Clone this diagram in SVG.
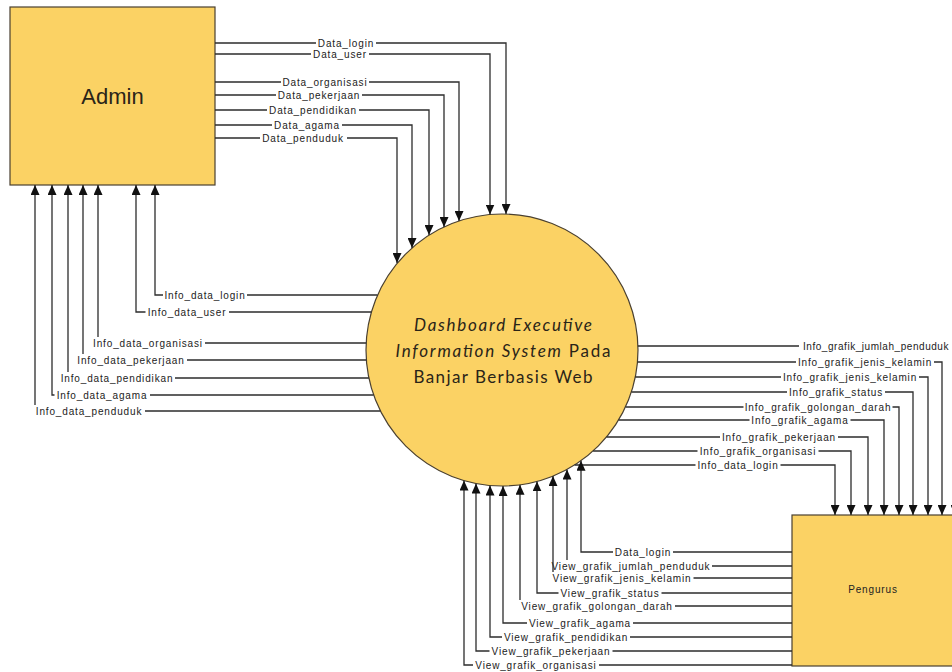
<svg xmlns="http://www.w3.org/2000/svg" width="952" height="672" viewBox="0 0 952 672">
<style>
.c{fill:none;stroke:#2d2d2d;stroke-width:1.3;marker-end:url(#ah)}
.l{font-family:"Liberation Sans",Arial,sans-serif;font-size:10px;letter-spacing:0.85px;fill:#222;text-anchor:middle}
.box{fill:#FBD264;stroke:#4a4030;stroke-width:1.2}
.pt{font-family:Lato,"Open Sans",sans-serif;font-size:17px;fill:#2a2418;text-anchor:middle}
</style>
<defs>
<marker id="ah" markerUnits="userSpaceOnUse" markerWidth="10" markerHeight="9" refX="10" refY="4.5" orient="auto" viewBox="0 0 10 9"><path d="M0,0 L10,4.5 L0,9 z" fill="#111"/></marker>
</defs>
<rect width="952" height="672" fill="#fff"/>
<g id="admin">
<rect class="box" x="10" y="7" width="205" height="178"/>
<text x="112.5" y="104" font-family="Liberation Sans,Arial,sans-serif" font-size="22" fill="#2a2418" text-anchor="middle">Admin</text>
</g>
<g id="process">
<circle class="box" cx="502" cy="350" r="136"/>
<text class="pt" x="503" y="331" font-style="italic" textLength="178" lengthAdjust="spacing">Dashboard Executive</text>
<text class="pt" x="503" y="357" textLength="215" lengthAdjust="spacing"><tspan font-style="italic">Information System</tspan> Pada</text>
<text class="pt" x="503" y="383" textLength="179" lengthAdjust="spacing">Banjar Berbasis Web</text>
</g>
<g id="pengurus">
<rect class="box" x="792" y="515" width="175" height="151"/>
<text class="l" x="873" y="593">Pengurus</text>
</g>
<g id="connectors">
<!-- Admin to process -->
<path class="c" d="M215,43 H316 M376,43 H506 V214"/>
<text class="l" x="346" y="46.5">Data_login</text>
<path class="c" d="M215,54 H311 M369,54 H490 V214.5"/>
<text class="l" x="340" y="57.5">Data_user</text>
<path class="c" d="M215,82 H281 M369,82 H459 V221"/>
<text class="l" x="325" y="85.5">Data_organisasi</text>
<path class="c" d="M215,95 H276 M362,95 H444 V227"/>
<text class="l" x="319" y="98.5">Data_pekerjaan</text>
<path class="c" d="M215,110 H267 M359,110 H429 V235"/>
<text class="l" x="313" y="113.5">Data_pendidikan</text>
<path class="c" d="M215,125 H272 M342,125 H412 V248"/>
<text class="l" x="307" y="128.5">Data_agama</text>
<path class="c" d="M215,138 H260 M347,138 H397 V263"/>
<text class="l" x="303" y="141.5">Data_penduduk</text>
<!-- process to Admin -->
<path class="c" d="M377.6,295 H247 M163,295 H155 V185"/>
<text class="l" x="205" y="298.5">Info_data_login</text>
<path class="c" d="M371.4,312 H229 M145.5,312 H136 V185"/>
<text class="l" x="187" y="315.5">Info_data_user</text>
<path class="c" d="M366.2,343 H205 M98,337 V185"/>
<text class="l" x="148" y="346.5">Info_data_organisasi</text>
<path class="c" d="M366.4,360 H187 M83,354 V185"/>
<text class="l" x="131" y="363.5">Info_data_pekerjaan</text>
<path class="c" d="M368.9,378 H175 M68,372 V185"/>
<text class="l" x="117" y="381.5">Info_data_pendidikan</text>
<path class="c" d="M373.7,395 H150 M54.5,395 H52 V185"/>
<text class="l" x="102" y="398.5">Info_data_agama</text>
<path class="c" d="M380.5,411 H145 M35,405 V185"/>
<text class="l" x="89" y="414.5">Info_data_penduduk</text>
<!-- process to Pengurus -->
<path class="c" d="M637.9,346 H799 M955,352 V515"/>
<text class="l" x="876" y="349.5" style="letter-spacing:0.55px">Info_grafik_jumlah_penduduk</text>
<path class="c" d="M637.5,362 H796 M934,362 H942 V515"/>
<text class="l" x="865" y="365.5">Info_grafik_jenis_kelamin</text>
<path class="c" d="M635.3,377 H781 M919,377 H928 V515"/>
<text class="l" x="850" y="380.5">Info_grafik_jenis_kelamin</text>
<path class="c" d="M631.4,392 H787 M885,392 H913 V515"/>
<text class="l" x="836" y="395.5">Info_grafik_status</text>
<path class="c" d="M625.5,407 H743.5 M892.5,407 H899 V515"/>
<text class="l" x="818" y="410.5">Info_grafik_golongan_darah</text>
<path class="c" d="M618.6,420 H749.5 M850.5,420 H884 V515"/>
<text class="l" x="800" y="423.5">Info_grafik_agama</text>
<path class="c" d="M606.5,437 H720 M838,437 H868 V515"/>
<text class="l" x="779" y="440.5">Info_grafik_pekerjaan</text>
<path class="c" d="M593.1,451 H697.5 M818.5,451 H851 V515"/>
<text class="l" x="758" y="454.5">Info_grafik_organisasi</text>
<path class="c" d="M574.6,465 H695.5 M780.5,465 H835 V515"/>
<text class="l" x="738" y="468.5">Info_data_login</text>
<!-- Pengurus to process -->
<path class="c" d="M792,552 H673 M613,552 H581 V460.7"/>
<text class="l" x="643" y="555.5">Data_login</text>
<path class="c" d="M792,566 H712 M567,560 V469.5"/>
<text class="l" x="631" y="569.5">View_grafik_jumlah_penduduk</text>
<path class="c" d="M792,578 H693.5 M553,572 V476.1"/>
<text class="l" x="622" y="581.5">View_grafik_jenis_kelamin</text>
<path class="c" d="M792,593 H661.5 M558.5,593 H537 V481.4"/>
<text class="l" x="610" y="596.5">View_grafik_status</text>
<path class="c" d="M792,606 H675 M520,600 V484.8"/>
<text class="l" x="597" y="609.5">View_grafik_golongan_darah</text>
<path class="c" d="M792,623 H633 M527,623 H503 V486"/>
<text class="l" x="580" y="626.5">View_grafik_agama</text>
<path class="c" d="M792,637 H630 M502,637 H490 V485.5"/>
<text class="l" x="566" y="640.5">View_grafik_pendidikan</text>
<path class="c" d="M792,651 H612.5 M489.5,651 H476 V483.5"/>
<text class="l" x="551" y="654.5">View_grafik_pekerjaan</text>
<path class="c" d="M792,665 H599 M473,665 H464 V480.6"/>
<text class="l" x="536" y="668.5">View_grafik_organisasi</text>
</g>
</svg>
